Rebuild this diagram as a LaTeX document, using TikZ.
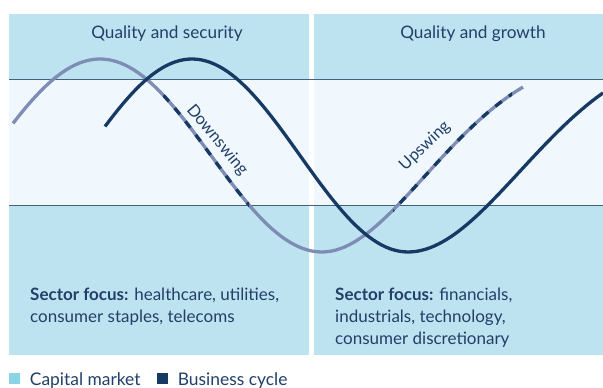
\documentclass[tikz,border=0pt]{standalone}
\usepackage{fontspec}
\setmainfont{Lato}
\usetikzlibrary{positioning}
\definecolor{panelblue}{RGB}{190,227,240}
\definecolor{bandblue}{RGB}{240,248,253}
\definecolor{navy}{RGB}{22,58,99}
\definecolor{slate}{RGB}{127,140,182}
\definecolor{rulecol}{RGB}{70,96,127}
\definecolor{inkblue}{RGB}{33,63,104}
\definecolor{keycyan}{RGB}{141,211,230}
\tikzset{
  panel/.style={fill=panelblue, draw=none},
  band/.style={fill=bandblue, draw=none},
  rule/.style={draw=rulecol, line width=0.9pt},
  capline/.style={draw=slate, line width=3.3pt},
  busline/.style={draw=navy, line width=3.3pt},
  swingdash/.style={draw=navy, line width=3.3pt, dash pattern=on 8pt off 9pt},
  heading/.style={text=inkblue, anchor=base, font=\fontsize{17.2}{20}\selectfont},
  focus/.style={
    text=inkblue,
    anchor=north west,
    inner sep=0pt,
    align=left,
    font=\fontsize{17}{22}\selectfont,
    execute at begin node=\setlength{\baselineskip}{22pt}
  },
  swing/.style={text=inkblue, font=\fontsize{16.5}{18}\selectfont},
  key/.style={minimum size=11pt, inner sep=0pt},
  keytext/.style={text=inkblue, font=\fontsize{17.4}{20}\selectfont, inner sep=0pt}
}
% falling half is a plain cosine, the rising half slows down towards the top
\def\capmarket{plot[domain=13:322, samples=70] (\x, {155.5-96.5*cos(0.81081*(\x-100))})
  -- plot[domain=0:201, samples=45] ({322+\x}, {155.5+96.5*cos(deg(0.0147*\x-0.147*(\x/100)^2))})}
\def\buscycle{plot[domain=105:408, samples=70] (\x, {155.5-96.5*cos(0.83333*(\x-192))})
  -- plot[domain=0:195, samples=45] ({408+\x}, {155.5+96.5*cos(deg(0.01376*\x-0.1072*(\x/100)^2))})}

\begin{document}
\begin{tikzpicture}[x=1pt, y=-1pt]
  \useasboundingbox (0,0) rectangle (603,388);
  \fill[panel] (9,14) rectangle (309,355);
  \fill[panel] (314,14) rectangle (603,355);
  \fill[band] (9,79) rectangle (309,205);
  \fill[band] (314,79) rectangle (603,205);
  \draw[rule] (9,79) -- (603,79);
  \draw[rule] (9,205) -- (603,205);

  \node[heading] (qsec) at (167,38) {Quality and security};
  \node[heading] (qgrow) at (473,38) {Quality and growth};

  \draw[capline] \capmarket;
  \begin{scope}
    \clip (163,92) rectangle (249,212) (393,75) rectangle (512,214);
    \draw[swingdash] \capmarket;
  \end{scope}
  \draw[busline] \buscycle;

  \node[swing, rotate=-50] (down) at (217,140) {Downswing};
  \node[swing, rotate=44] (up) at (425,146) {Upswing};

  \node[focus] (focusl) at (30,288) {\textbf{Sector focus:} healthcare, utilities,\\consumer staples, telecoms};
  \node[focus] (focusr) at (335,288) {\textbf{Sector focus:} financials,\\industrials, technology,\\consumer discretionary};

  \node[key, fill=keycyan] (kcap) at (14.5,378.5) {};
  \node[keytext, right=9.5pt of kcap, yshift=-2pt] (kcaptext) {Capital market};
  \node[key, fill=navy] (kbus) at (162.5,378.5) {};
  \node[keytext, right=9.5pt of kbus, yshift=-2pt] (kbustext) {Business cycle};
\end{tikzpicture}
\end{document}
